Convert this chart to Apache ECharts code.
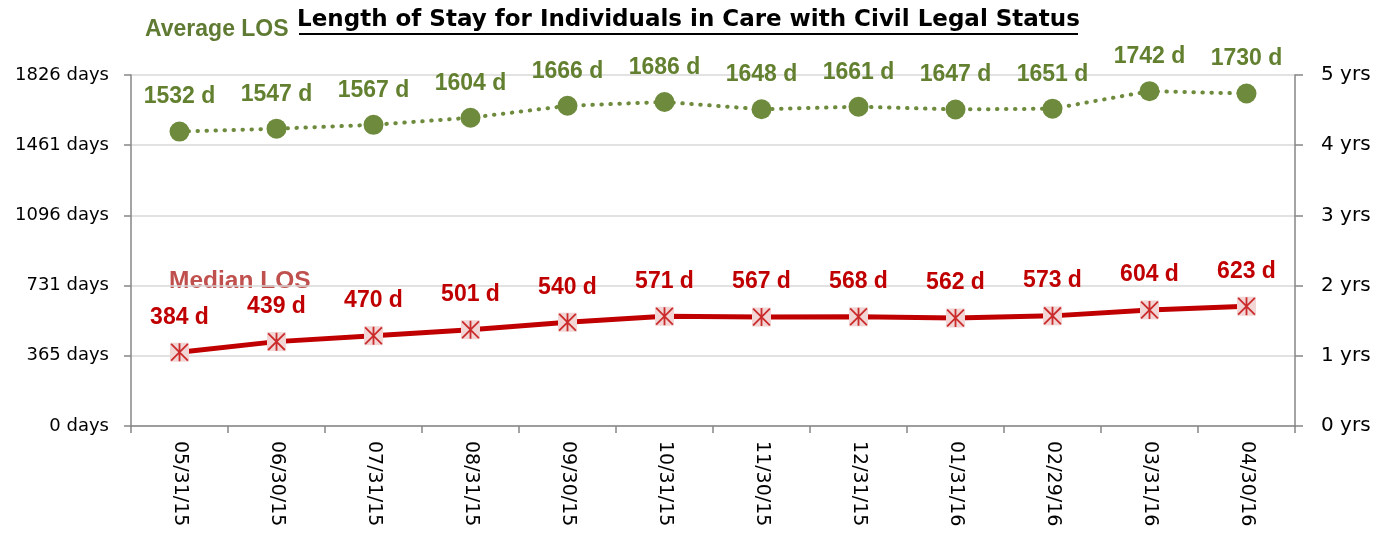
<!DOCTYPE html>
<html>
<head>
<meta charset="utf-8">
<script src="https://cdn.jsdelivr.net/npm/echarts@6/dist/echarts.min.js"></script>
<style>
  html, body { margin: 0; padding: 0; background: #fff; }
  #chart { width: 1388px; height: 537px; }
</style>
</head>
<body>
<div id="chart"></div>
<script>
// categories (month end dates)
const months = ['05/31/15', '06/30/15', '07/31/15', '08/31/15', '09/30/15', '10/31/15',
  '11/30/15', '12/31/15', '01/31/16', '02/29/16', '03/31/16', '04/30/16']
// average length of stay, days
const averageLos = [1532, 1547, 1567, 1604, 1666, 1686, 1648, 1661, 1647, 1651, 1742, 1730]
// median length of stay, days
const medianLos = [384, 439, 470, 501, 540, 571, 567, 568, 562, 573, 604, 623]

const AXIS_FONT = '"DejaVu Sans", sans-serif'
const BOLD_FONT = '"Liberation Sans", Arial, sans-serif'
const green = '#6E8B3D'
const red = '#C00000'
// asterisk marker drawn as thin bars
const asterisk = 'path://M9,0 L11,0 L11,20 L9,20 Z M0,1.4 L1.4,0 L20,18.6 L18.6,20 Z M18.6,0 L20,1.4 L1.4,20 L0,18.6 Z'

const chart = echarts.init(document.getElementById('chart'))

const axisGray = { color: '#868686', width: 1.5 }

const option = {
  animation: false,
  grid: { left: 131, right: 93, top: 75, bottom: 111 },
  xAxis: {
    type: 'category',
    data: months,
    boundaryGap: true,
    axisLine: { lineStyle: axisGray },
    axisTick: { show: true, length: 7, lineStyle: axisGray },
    axisLabel: { rotate: -90, fontSize: 19, color: '#000', fontFamily: AXIS_FONT, margin: 15 }
  },
  yAxis: [
    {
      type: 'value',
      min: 0,
      max: 1826.25,
      interval: 365.25,
      axisLine: { show: true, lineStyle: axisGray },
      axisTick: { show: true, length: 7, lineStyle: axisGray },
      splitLine: { lineStyle: { color: '#d9d9d9', width: 1.5 } },
      axisLabel: {
        fontSize: 18, color: '#000', fontFamily: AXIS_FONT, margin: 22,
        formatter: v => Math.round(v) + ' days'
      }
    },
    {
      type: 'value',
      min: 0,
      max: 5,
      interval: 1,
      position: 'right',
      axisLine: { show: true, lineStyle: axisGray },
      axisTick: { show: true, length: 8, lineStyle: axisGray },
      splitLine: { show: false },
      axisLabel: { fontSize: 20, color: '#000', fontFamily: AXIS_FONT, margin: 26, formatter: '{value} yrs' }
    }
  ],
  series: [
    {
      name: 'Average LOS',
      type: 'line',
      data: averageLos,
      symbol: 'circle',
      symbolSize: 20,
      itemStyle: { color: green },
      lineStyle: { color: green, width: 4, type: [0.5, 8.5], cap: 'round' },
      label: {
        show: true, position: 'top', distance: 13,
        formatter: p => p.value + ' d',
        fontSize: 23, fontWeight: 'bold', color: '#62802F', fontFamily: BOLD_FONT
      },
      z: 3
    },
    {
      name: 'Median LOS',
      type: 'line',
      data: medianLos,
      symbol: 'rect',
      symbolSize: 19,
      itemStyle: { color: '#F2D5D5' },
      lineStyle: { color: red, width: 5 },
      label: {
        show: true, position: 'top', distance: 14,
        formatter: p => p.value + ' d',
        fontSize: 23, fontWeight: 'bold', color: red, fontFamily: BOLD_FONT
      },
      z: 3
    },
    {
      name: 'Median marker',
      type: 'scatter',
      data: medianLos,
      symbol: asterisk,
      symbolSize: 18,
      itemStyle: { color: red },
      silent: true,
      z: 4
    }
  ],
  graphic: [
    {
      type: 'text',
      style: {
        x: 688.5,
        y: 20.5,
        text: 'Length of Stay for Individuals in Care with Civil Legal Status',
        font: 'bold 23px "DejaVu Sans", sans-serif',
        fill: '#000',
        align: 'center',
        verticalAlign: 'middle'
      }
    },
    {
      type: 'line',
      shape: { x1: 299, y1: 34, x2: 1078, y2: 34 },
      style: { stroke: '#000', lineWidth: 2 }
    },
    {
      type: 'text',
      style: {
        x: 145,
        y: 30,
        text: 'Average LOS',
        font: 'bold 23px ' + BOLD_FONT,
        fill: '#5F7A32',
        verticalAlign: 'middle',
        shadowColor: 'rgba(155, 200, 90, 0.9)',
        shadowBlur: 8
      }
    },
    {
      type: 'text',
      style: {
        x: 169,
        y: 281.5,
        text: 'Median LOS',
        font: 'bold 24.5px ' + BOLD_FONT,
        fill: '#C0504D',
        verticalAlign: 'middle',
        shadowColor: 'rgba(230, 150, 150, 0.9)',
        shadowBlur: 8
      }
    }
  ]
}

chart.setOption(option)
</script>
</body>
</html>
